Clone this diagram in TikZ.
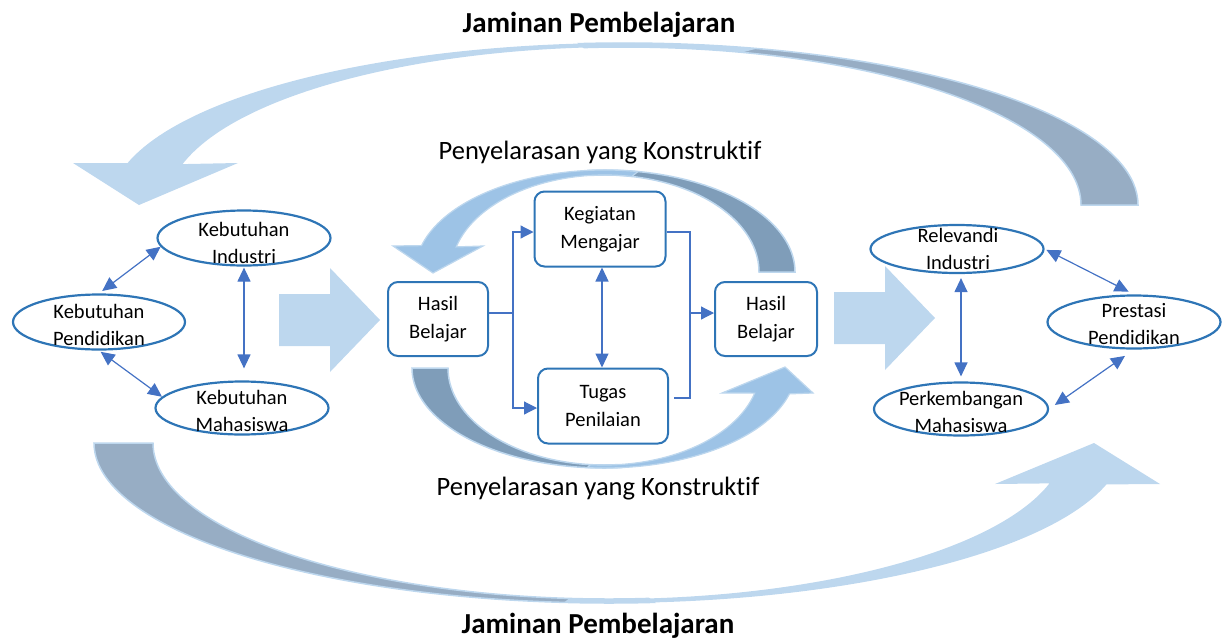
\documentclass[tikz,border=0pt]{standalone}
\usepackage{fontspec}
\setmainfont{Carlito}[Ligatures=NoCommon]
\usetikzlibrary{calc}
\usetikzlibrary{arrows.meta}
\usetikzlibrary{shapes.geometric}
\definecolor{ringblue}{HTML}{2E75B6}
\definecolor{linkblue}{HTML}{4472C4}
\definecolor{paleblue}{HTML}{BDD7EE}
\definecolor{backgrey}{HTML}{97ADC4}
\definecolor{midblue}{HTML}{9DC3E6}
\definecolor{backslate}{HTML}{7F9DB9}
\tikzstyle{needbubble}=[draw=ringblue,line width=2.2pt,ellipse,inner sep=0pt]
\tikzstyle{bubbletext}=[align=center,inner sep=0pt,font=\fontsize{20.5}{27.5}\selectfont]
\tikzstyle{stagebox}=[draw=ringblue,line width=2pt,rounded corners=10pt,align=center,inner sep=0pt,font=\fontsize{20.5}{28}\selectfont]
\tikzstyle{twoway}=[{Triangle[length=14pt,width=13pt]}-{Triangle[length=14pt,width=13pt]},linkblue,line width=1.2pt]
\tikzstyle{flowline}=[linkblue,line width=1.2pt]
\tikzstyle{flowarrow}=[flowline,-{Triangle[length=13pt,width=13pt]}]
\tikzstyle{bigtitle}=[inner sep=0pt,anchor=base,font=\fontsize{29}{32}\selectfont\bfseries]
\tikzstyle{midtitle}=[inner sep=0pt,font=\fontsize{26.5}{30}\selectfont]
\def\ribbon[#1](#2)(#3:#4:#5:#6:#7:#8)#9% Syntax: [fill options] (centre) (from:to:outer rx:outer ry:inner rx:inner ry){head}
    { \filldraw[#1] ($(#2)+({#5*cos(#3)},{#6*sin(#3)})$) arc[start angle=#3,end angle=#4,x radius=#5pt,y radius=#6pt] #9
      -- ($(#2)+({#7*cos(#4)},{#8*sin(#4)})$) arc[start angle=#4,end angle=#3,x radius=#7pt,y radius=#8pt] -- cycle; }
\newcommand{\blockarrow}[2]{% #1 = left end of shaft, #2 = height of the tip
  \fill[paleblue] (#1,#2+26) -- ++(51,0) -- ++(0,26) -- ++(50,-52) -- ++(-50,-52) -- ++(0,26) -- ++(-51,0) -- cycle;
}
\begin{document}
\begin{tikzpicture}[x=1pt,y=1pt]
  \useasboundingbox (0,0) rectangle (1223,-640);
  % outer loop: Jaminan Pembelajaran
  \ribbon[fill=backgrey,draw=paleblue,line width=1.5pt](624,-205)(0:95:514:162:457:158){}
  \ribbon[fill=paleblue,draw=none](624,-205)(75:165:514:162:457:158){-- (73,-163) -- (139,-205) -- (238,-163)}
  \ribbon[fill=backgrey,draw=paleblue,line width=1.5pt](609,-443)(180:275:515:160:456:156){}
  \ribbon[fill=paleblue,draw=none](609,-443)(265:345:515:160:456:156){-- (1160,-484) -- (1094,-443) -- (995,-484)}
  % inner loop: Penyelarasan yang Konstruktif
  \ribbon[fill=backslate,draw=paleblue,line width=1.5pt](605,-272)(0:95:190:102:154:97){}
  \ribbon[fill=midblue,draw=paleblue,line width=1.2pt](605,-272)(80:165:190:102:154:97){-- (393,-246) -- (433,-273) -- (483,-246)}
  \ribbon[fill=backslate,draw=paleblue,line width=1.5pt](604,-368)(180:275:192:100:156:97){}
  \ribbon[fill=midblue,draw=paleblue,line width=1.2pt](604,-368)(265:345:192:100:156:97){-- (813,-393) -- (785,-367) -- (722,-393)}

  \node[bigtitle] (jamtop) at (599,-32) {Jaminan Pembelajaran};
  \node[bigtitle] (jambot) at (598,-633) {Jaminan Pembelajaran};
  \node[midtitle] (seltop) at (600,-153) {Penyelarasan yang Konstruktif};
  \node[midtitle] (selbot) at (598,-489) {Penyelarasan yang Konstruktif};

  \blockarrow{279}{-320}
  \blockarrow{834}{-318}

  % left: kebutuhan
  \node[needbubble,minimum width=173pt,minimum height=55pt] (kind) at (244,-238) {};
  \node[needbubble,minimum width=172pt,minimum height=55pt] (kped) at (99,-322) {};
  \node[needbubble,minimum width=173pt,minimum height=53pt] (kmah) at (242,-408) {};
  \node[bubbletext] (kindtxt) at (244,-243) {Kebutuhan\\Industri};
  \node[bubbletext] (kpedtxt) at (99,-325) {Kebutuhan\\Pendidikan};
  \node[bubbletext] (kmahtxt) at (242,-411) {Kebutuhan\\Mahasiswa};
  \draw[twoway,shorten <=4pt] (kped.north) -- (kind.186);
  \draw[twoway,shorten <=2pt] (kped.south) -- (kmah.172);
  \draw[twoway,shorten <=1pt,shorten >=12pt] (kind.south) -- (kind.south |- kmah.north);

  % centre: hasil belajar
  \node[stagebox,minimum width=100pt,minimum height=74pt] (hbl) at (438,-319) {Hasil\\Belajar};
  \node[stagebox,minimum width=131pt,minimum height=75pt] (keg) at (600,-229) {Kegiatan\\Mengajar};
  \node[stagebox,minimum width=130pt,minimum height=75pt] (tug) at (603,-406) {Tugas\\Penilaian};
  \node[stagebox,minimum width=102pt,minimum height=74pt] (hbr) at (766,-319) {Hasil\\Belajar};
  \draw[flowline] ([yshift=6]hbl.east) -- ++(24,0) coordinate (splitL);
  \draw[flowarrow] (splitL) |- ([yshift=-3]keg.west);
  \draw[flowarrow] (splitL) |- ([yshift=-2]tug.west);
  \coordinate (joinR) at (690,-313);
  \draw[flowline] ([yshift=-3]keg.east) -| (joinR);
  \draw[flowline] ([xshift=5,yshift=8]tug.east) -| (joinR);
  \draw[flowarrow] (joinR) -- (joinR -| hbr.west);
  \draw[twoway] ([xshift=2]keg.south) -- ([xshift=2]keg.south |- tug.north);

  % right: hasil
  \node[needbubble,minimum width=173pt,minimum height=48pt] (krel) at (957,-249) {};
  \node[needbubble,minimum width=173pt,minimum height=53pt] (kpre) at (1134,-322) {};
  \node[needbubble,minimum width=174pt,minimum height=53pt] (kper) at (961,-409) {};
  \node[bubbletext] (kreltxt) at (958,-249) {Relevandi\\Industri};
  \node[bubbletext] (kpretxt) at (1134,-324) {Prestasi\\Pendidikan};
  \node[bubbletext] (kpertxt) at (961,-412) {Perkembangan\\Mahasiswa};
  \draw[twoway,shorten <=2pt,shorten >=6pt] (krel.east) -- (kpre.north);
  \draw[twoway,shorten <=4pt,shorten >=5pt] (krel.south -| kper.north) -- (kper.north);
  \draw[twoway,shorten <=11pt,shorten >=7pt] (kpre.south) -- (kper.east);
\end{tikzpicture}
\end{document}
